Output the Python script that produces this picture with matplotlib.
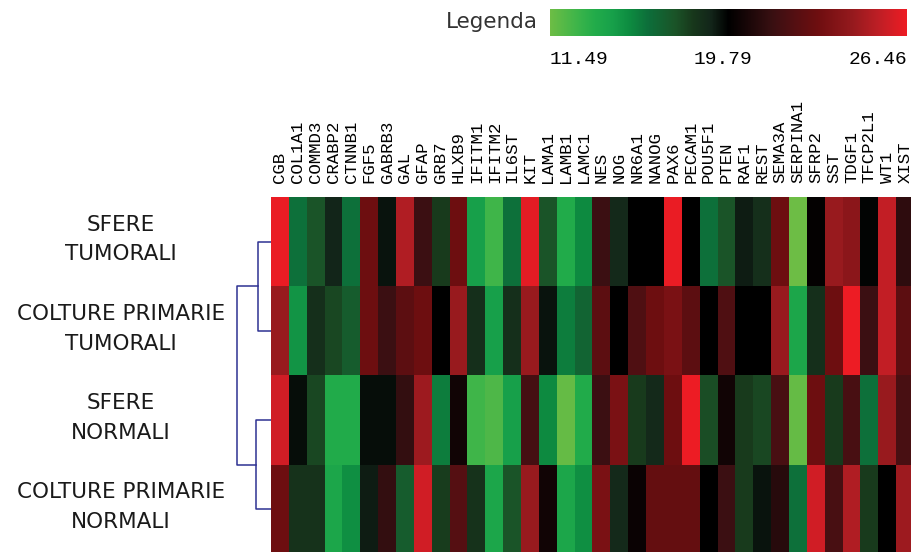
import numpy as np
import matplotlib
matplotlib.use("Agg")
from matplotlib import pyplot as plt
from matplotlib.colors import LinearSegmentedColormap, TwoSlopeNorm

# gene names (columns)
genes = ["CGB", "COL1A1", "COMMD3", "CRABP2", "CTNNB1", "FGF5", "GABRB3", "GAL",
         "GFAP", "GRB7", "HLXB9", "IFITM1", "IFITM2", "IL6ST", "KIT", "LAMA1",
         "LAMB1", "LAMC1", "NES", "NOG", "NR6A1", "NANOG", "PAX6", "PECAM1",
         "POU5F1", "PTEN", "RAF1", "REST", "SEMA3A", "SERPINA1", "SFRP2", "SST",
         "TDGF1", "TFCP2L1", "WT1", "XIST"]

# sample names (rows)
samples = ["SFERE\nTUMORALI", "COLTURE PRIMARIE\nTUMORALI",
           "SFERE\nNORMALI", "COLTURE PRIMARIE\nNORMALI"]

# expression values
sfere_tumorali = [26.4, 16.0, 17.3, 19.0, 16.0, 23.1, 19.4, 25.1, 21.5, 18.1, 23.1, 14.4,
                  12.7, 16.0, 26.2, 17.3, 13.6, 15.2, 21.5, 18.8, 19.8, 19.8, 26.4, 19.8,
                  16.0, 17.3, 19.2, 18.5, 23.1, 11.5, 19.9, 24.5, 24.1, 19.7, 25.5, 21.1]
colture_tumorali = [24.5, 14.8, 18.5, 17.7, 16.9, 23.1, 21.5, 22.5, 23.1, 19.8, 24.5, 18.5,
                    14.4, 18.5, 24.5, 19.4, 15.6, 16.5, 22.5, 19.8, 22.1, 23.1, 23.5, 22.5,
                    19.8, 22.1, 19.8, 19.8, 24.5, 14.0, 18.5, 23.1, 26.46, 21.5, 25.5, 22.5]
sfere_normali = [25.8, 19.5, 17.7, 13.6, 13.6, 19.5, 19.5, 21.3, 24.6, 15.6, 20.3, 12.7,
                 12.3, 14.4, 21.8, 15.2, 11.7, 13.6, 21.5, 23.5, 18.1, 18.8, 23.1, 26.46,
                 17.5, 20.3, 18.1, 17.7, 21.9, 11.7, 23.1, 18.1, 21.9, 16.0, 24.5, 21.9]
colture_normali = [23.1, 18.4, 18.4, 14.0, 15.0, 19.2, 21.3, 16.9, 25.8, 18.0, 22.3, 18.4,
                   14.0, 17.3, 24.5, 20.3, 14.0, 15.0, 23.5, 18.8, 20.1, 22.8, 22.8, 22.8,
                   19.8, 21.5, 18.1, 19.4, 20.9, 16.0, 25.8, 21.9, 25.1, 18.1, 19.8, 24.6]

legend_ticks = [11.49, 19.79, 26.46]

# dendrogram: leaf pairs and merge heights
pair_heights = [0.38, 0.44]   # (rows 0-1), (rows 2-3)
root_height = 1.0

data = np.array([sfere_tumorali, colture_tumorali, sfere_normali, colture_normali])

cmap = LinearSegmentedColormap.from_list(
    "gkr",
    [(0.0, "#6dbd45"), (0.075, "#3db54a"), (0.125, "#22ac4a"), (0.175, "#17a04a"),
     (0.225, "#0d8a40"), (0.275, "#0d6e3a"), (0.35, "#1b5428"), (0.4, "#18381c"),
     (0.45, "#13261a"), (0.5, "#000000"), (0.625, "#3a1012"), (0.7, "#5a0f12"),
     (0.75, "#6e0e10"), (0.85, "#961a1e"), (0.925, "#c01f26"), (1.0, "#ed1c24")])
norm = TwoSlopeNorm(vmin=legend_ticks[0], vcenter=legend_ticks[1], vmax=legend_ticks[2])

W, H = 912, 552
fig = plt.figure(figsize=(W / 100, H / 100), dpi=100)

# heatmap
ax = fig.add_axes([271 / W, -2 / H, 643 / W, 357 / H])
ax.imshow(data, cmap=cmap, norm=norm, aspect="auto", interpolation="nearest")
ax.xaxis.tick_top()
ax.set_xticks(range(len(genes)))
ax.set_xticklabels(genes, rotation=90, fontsize=12.5, family="Liberation Mono",
                   va="bottom", ha="center")
ax.tick_params(axis="x", length=0, pad=10)
ax.set_yticks(np.arange(len(samples)) - 0.1)
ax.set_yticklabels(samples, fontsize=15.5, ha="center", family="DejaVu Sans",
                   color="#1a1a1a", linespacing=1.6)
ax.tick_params(axis="y", length=0, pad=108)
for s in ax.spines.values():
    s.set_visible(False)

# dendrogram
dax = fig.add_axes([230 / W, -2 / H, 41 / W, 357 / H])
dax.set_ylim(3.5, -0.5)
dax.set_xlim(1.2, 0)
line = dict(color="#2e3192", lw=1.1)
for k, h in enumerate(pair_heights):
    a, b = 2 * k, 2 * k + 1
    dax.plot([0, h, h, 0], [a, a, b, b], **line)
dax.plot([pair_heights[0], root_height, root_height, pair_heights[1]],
         [0.5, 0.5, 2.5, 2.5], **line)
dax.axis("off")

# colour legend
lax = fig.add_axes([550 / W, 1 - 36 / H, 357 / W, 27 / H])
grad = np.linspace(0, 1, 256)[None, :]
lax.imshow(grad, cmap=cmap, aspect="auto", extent=[0, 1, 0, 1])
lax.set_xticks([])
lax.set_yticks([])
for s in lax.spines.values():
    s.set_visible(False)
lax.text(-0.035, 0.5, "Legenda", transform=lax.transAxes, ha="right", va="center",
         fontsize=15.5, color="#333333")
for x, t, ha in zip([0, 0.485, 1], legend_ticks, ["left", "center", "right"]):
    lax.text(x, -0.55, f"{t:.2f}", transform=lax.transAxes, ha=ha, va="top",
             fontsize=14, family="Liberation Mono")

fig.savefig("out.png", dpi=100)
